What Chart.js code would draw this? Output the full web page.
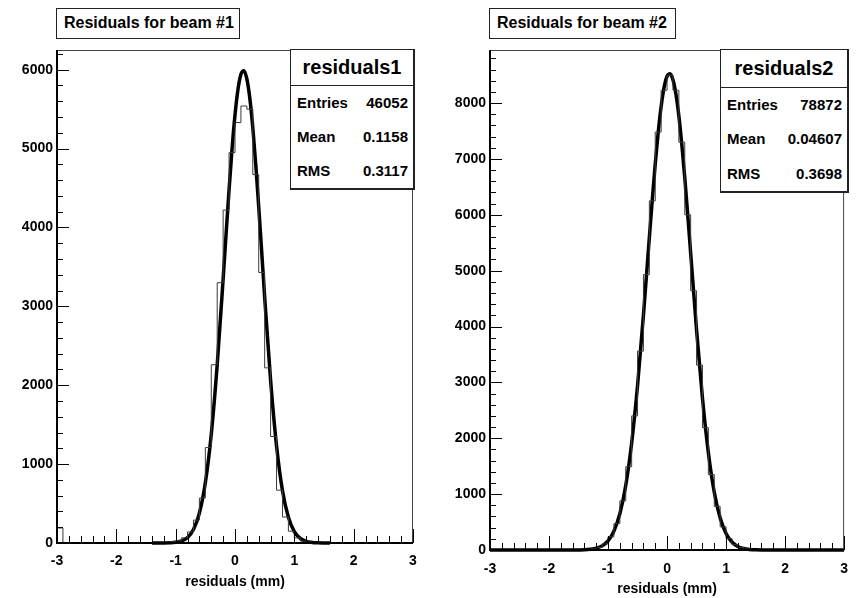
<!DOCTYPE html>
<html>
<head>
<meta charset="utf-8">
<script src="https://cdn.jsdelivr.net/npm/chart.js@4.4.1/dist/chart.umd.min.js"></script>
<style>
  body { margin: 0; background: #fff; width: 859px; height: 598px; position: relative; overflow: hidden;
         font-family: "Liberation Sans", Arial, sans-serif; font-weight: bold; color: #000; }
  .panel { position: absolute; top: 0; height: 598px; }
  .titlebox { position: absolute; box-sizing: border-box; border: 1px solid #222; background: #fff;
              font-size: 16px; line-height: 28px; padding-left: 7px; white-space: nowrap; }
  .stats { position: absolute; box-sizing: border-box; border: 1px solid #222; border-right-width: 2px;
           border-bottom-width: 2px; background: #fff; }
  .stats .head { box-sizing: border-box; border-bottom: 1px solid #222; font-size: 20px; text-align: center; }
  .stats .row { display: flex; justify-content: space-between; font-size: 15px; padding: 0 5px 0 6px; }
</style>
</head>
<body>
<div class="panel" style="left:0;width:430px"><canvas id="beam1" width="430" height="598"></canvas></div>
<div class="panel" style="left:430px;width:429px"><canvas id="beam2" width="429" height="598"></canvas></div>
<div class="titlebox" style="left:56px;top:8px;width:184px;height:31px">Residuals for beam #1</div>
<div class="titlebox" style="left:489px;top:8px;width:187px;height:31px">Residuals for beam #2</div>
<div class="stats" id="stats1" style="left:290px;top:49px;width:125px;height:141px"></div>
<div class="stats" id="stats2" style="left:720px;top:49px;width:129px;height:144px"></div>
<script>
// histogram binning: 60 bins of 0.1 mm from -3 to 3
const binLow = -3, binHigh = 3, binWidth = 0.1;
const xTickValues = [-3, -2, -1, 0, 1, 2, 3];
const yTickValues1 = [0, 1000, 2000, 3000, 4000, 5000, 6000];
const yTickValues2 = [0, 1000, 2000, 3000, 4000, 5000, 6000, 7000, 8000];

// beam #1 bin contents
const counts1 = [
  190, 0, 0, 0, 0, 0, 0, 0, 0, 0,
  0, 0, 0, 0, 0, 1, 2, 4, 8, 15,
  30, 65, 140, 290, 570, 1210, 2260, 3300, 4220, 4950,
  5330, 5540, 5500, 4670, 3430, 2220, 1350, 670, 330, 150,
  65, 25, 10, 4, 2, 1, 0, 0, 0, 0,
  0, 0, 0, 0, 0, 0, 0, 0, 0, 0
];
// beam #2 bin contents
const counts2 = [
  0, 0, 0, 0, 0, 0, 0, 0, 0, 0,
  0, 0, 0, 0, 1, 3, 7, 20, 48, 111,
  237, 474, 880, 1490, 2400, 3560, 4930, 6250, 7480, 8230,
  8500, 8230, 7300, 6000, 4640, 3310, 2190, 1350, 780, 415,
  205, 95, 41, 16, 6, 2, 0, 0, 0, 0,
  0, 0, 0, 0, 0, 0, 0, 0, 0, 0
];

// gaussian fit curves
const fitX1 = [-1.4, -1.3, -1.2, -1.1, -1.0, -0.9, -0.8, -0.7, -0.6, -0.5, -0.4, -0.3,
  -0.2, -0.15, -0.1, -0.05, 0, 0.05, 0.1, 0.15, 0.2, 0.25, 0.3, 0.35, 0.4, 0.45, 0.5,
  0.6, 0.7, 0.8, 0.9, 1.0, 1.1, 1.2, 1.3, 1.4, 1.5, 1.6];
const fitY1 = [0, 0.2, 0.7, 3, 9, 26, 70, 171, 379, 763, 1378, 2257,
  3347, 3920, 4481, 4994, 5426, 5750, 5942, 5987, 5883, 5636, 5265, 4796, 4259, 3692, 3116,
  2063, 1233, 665, 326, 144, 58, 21, 7, 2, 0.6, 0];

const fitX2 = [-3, -2.5, -2, -1.8, -1.6, -1.5, -1.4, -1.3, -1.2, -1.1, -1.0, -0.9, -0.8, -0.7, -0.6, -0.5, -0.4,
  -0.3, -0.25, -0.2, -0.15, -0.1, -0.05, 0, 0.05, 0.1, 0.15, 0.2, 0.25, 0.3, 0.35, 0.4,
  0.5, 0.6, 0.7, 0.8, 0.9, 1.0, 1.1, 1.2, 1.3, 1.4, 1.5, 1.6, 1.8, 2, 2.5, 3];
const fitY2 = [0, 0, 0, 0, 0.5, 1.5, 4, 12, 31, 74, 164, 338, 648, 1154, 1913, 2941, 4205,
  5593, 6272, 6911, 7475, 7941, 8281, 8481, 8527, 8419, 8161, 7769, 7260, 6664, 6003, 5315,
  3938, 2718, 1740, 1033, 573, 296, 143, 62, 26, 10, 3.5, 1, 0, 0, 0, 0];

const statNames = ["Entries", "Mean", "RMS"];
const stats1 = ["46052", "0.1158", "0.3117"];
const stats2 = ["78872", "0.04607", "0.3698"];

// outline points at bin left edges, closed down to zero at both ends
function histPoints(counts) {
  const pts = [{ x: binLow, y: 0 }];
  counts.forEach(function (c, i) { pts.push({ x: binLow + i * binWidth, y: c }); });
  pts.push({ x: binHigh, y: counts[counts.length - 1] });
  pts.push({ x: binHigh, y: 0 });
  return pts;
}

function zip(xs, ys) {
  return xs.map(function (x, i) { return { x: x, y: ys[i] }; });
}

function fixedTicks(values) {
  return function (s) { s.ticks = values.map(function (v) { return { value: v }; }); };
}

// ROOT style frame: ticks drawn inside, thick left/bottom axes
const frameTicks = {
  id: "frameTicks",
  afterDatasetsDraw: function (chart) {
    const ctx = chart.ctx, a = chart.chartArea;
    const xs = chart.scales.x, ys = chart.scales.y;
    ctx.save();
    ctx.strokeStyle = "#000";
    ctx.lineWidth = 1;
    ctx.beginPath();
    for (let i = 0; i <= 30; i++) {
      const px = Math.round(xs.getPixelForValue(xs.min + i * 0.2)) + 0.5;
      const len = i % 5 === 0 ? 14 : 7;
      ctx.moveTo(px, a.bottom);
      ctx.lineTo(px, a.bottom - len);
    }
    for (let i = 0; i * 200 <= ys.max; i++) {
      const py = Math.round(ys.getPixelForValue(i * 200)) + 0.5;
      const len = i % 5 === 0 ? 12 : 6;
      ctx.moveTo(a.left, py);
      ctx.lineTo(a.left + len, py);
    }
    ctx.stroke();
    ctx.strokeStyle = "#444";
    ctx.beginPath();
    ctx.moveTo(a.left, a.top + 0.5);
    ctx.lineTo(a.right - 0.5, a.top + 0.5);
    ctx.lineTo(a.right - 0.5, a.bottom);
    ctx.stroke();
    ctx.strokeStyle = "#000";
    ctx.lineWidth = 2;
    ctx.beginPath();
    ctx.moveTo(a.left, a.top);
    ctx.lineTo(a.left, a.bottom);
    ctx.lineTo(a.right, a.bottom);
    ctx.stroke();
    ctx.restore();
  }
};

function makePanel(id, counts, fitX, fitY, yMax, yTicks, yWidth, xHeight, padRight, tickPad, titlePad) {
  const font = { family: "'Liberation Sans', Arial, sans-serif", weight: "bold", size: 14 };
  return new Chart(document.getElementById(id), {
    type: "line",
    data: {
      datasets: [
        {
          data: histPoints(counts),
          stepped: "before",
          borderColor: "#3a3a3a",
          borderWidth: 1,
          pointRadius: 0,
        },
        {
          data: zip(fitX, fitY),
          borderColor: "#000",
          borderWidth: 3.5,
          cubicInterpolationMode: "monotone",
          pointRadius: 0,
          clip: false,
        },
      ],
    },
    options: {
      responsive: false,
      animation: false,
      layout: { padding: { left: 0, right: padRight, top: 50, bottom: 0 } },
      plugins: { legend: { display: false }, tooltip: { enabled: false } },
      scales: {
        x: {
          type: "linear",
          min: binLow,
          max: binHigh,
          afterBuildTicks: fixedTicks(xTickValues),
          ticks: { autoSkip: false, maxRotation: 0, padding: tickPad, color: "#000", font: font,
                   callback: function (v) { return String(v); } },
          grid: { display: false, drawTicks: false },
          border: { display: false },
          title: { display: true, text: "residuals (mm)", color: "#000", font: font,
                   padding: { top: 0, bottom: titlePad } },
          afterFit: function (s) { s.height = xHeight; },
        },
        y: {
          type: "linear",
          min: 0,
          max: yMax,
          afterBuildTicks: fixedTicks(yTicks),
          ticks: { autoSkip: false, padding: 4, color: "#000", font: font,
                   callback: function (v) { return String(v); } },
          grid: { display: false, drawTicks: false },
          border: { display: false },
          afterFit: function (s) { s.width = yWidth; },
        },
      },
    },
    plugins: [frameTicks],
  });
}

function fillStats(id, name, values, headH) {
  const box = document.getElementById(id);
  const rowH = (box.clientHeight - headH) / values.length;
  let html = '<div class="head" style="height:' + headH + 'px;line-height:' + (headH - 1) + 'px">' + name + "</div>";
  values.forEach(function (v, i) {
    html += '<div class="row" style="height:' + rowH + 'px;line-height:' + rowH + 'px"><span>' +
      statNames[i] + "</span><span>" + v + "</span></div>";
  });
  box.innerHTML = html;
}

makePanel("beam1", counts1, fitX1, fitY1, 6250, yTickValues1, 57, 55, 17, 10, 7);
makePanel("beam2", counts2, fitX2, fitY2, 8950, yTickValues2, 60, 48, 12, 11, 0);
fillStats("stats1", "residuals1", stats1, 36);
fillStats("stats2", "residuals2", stats2, 38);
</script>
</body>
</html>
